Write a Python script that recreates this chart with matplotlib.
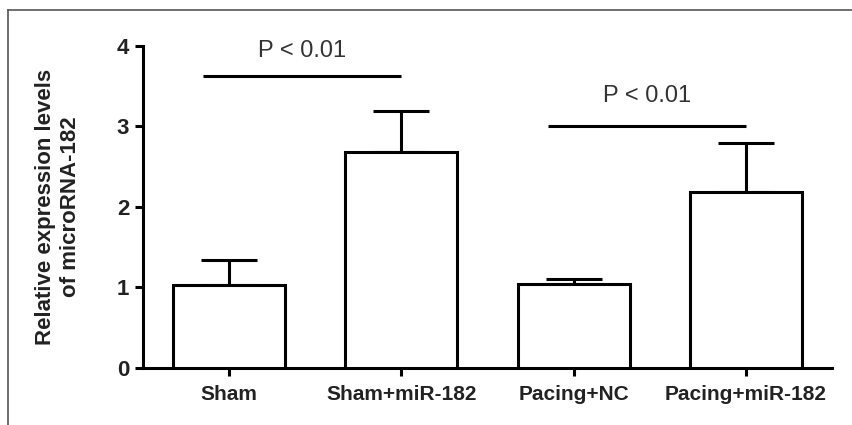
import matplotlib
matplotlib.use("Agg")
import matplotlib.pyplot as plt
from matplotlib.lines import Line2D

# data
groups = ["Sham", "Sham+miR-182", "Pacing+NC", "Pacing+miR-182"]
means = [1.03, 2.68, 1.04, 2.18]
errors = [0.31, 0.51, 0.06, 0.61]
sig_pairs = [(0, 1), (2, 3)]
sig_line_y = [3.63, 3.0]
sig_text_y = [3.80, 3.24]
sig_labels = ["P < 0.01", "P < 0.01"]
yticks = [0, 1, 2, 3, 4]

plt.rcParams["font.family"] = ["Liberation Sans", "DejaVu Sans"]

fig = plt.figure(figsize=(8.52, 4.25), dpi=100)
ax = fig.add_axes([0.168, 0.134, 0.8085, 0.7585])

lw = 2.2
x = list(range(len(groups)))
ax.bar(x, means, width=0.65, color="white", edgecolor="black", linewidth=lw, zorder=3)
ax.errorbar(x, means, yerr=[[0] * len(errors), errors], fmt="none", ecolor="black",
            elinewidth=lw, capsize=20, capthick=lw, zorder=2)

# significance lines
for (a, b), ly, ty, lab in zip(sig_pairs, sig_line_y, sig_text_y, sig_labels):
    x0 = a - 0.15
    x1 = b
    ax.plot([x0, x1], [ly, ly], color="black", linewidth=lw, solid_capstyle="butt")
    ax.text((x0 + x1) / 2, ty, lab, ha="center", va="bottom", fontsize=17, color="#333333")

ax.set_xlim(-0.5, 3.5)
ax.set_ylim(0, 4)
ax.set_yticks(yticks)
ax.set_xticks(x)
ax.set_xticklabels(groups, fontsize=15, fontweight="bold", color="#222222")
ax.set_yticklabels([str(t) for t in yticks], fontsize=16, fontweight="bold", color="#222222")
ax.tick_params(direction="out", length=6, width=lw, pad=4)
ax.tick_params(axis="x", pad=6)

for s in ["top", "right"]:
    ax.spines[s].set_visible(False)
for s in ["left", "bottom"]:
    ax.spines[s].set_linewidth(lw)

ax.set_ylabel("Relative expression levels\nof microRNA-182", fontsize=16, fontweight="bold",
              color="#222222", linespacing=1.25)
ax.yaxis.set_label_coords(-0.09, 0.5)

# gray frame around the figure (only top and left are visible)
fig.add_artist(Line2D([8 / 852, 8 / 852], [0, 1 - 10 / 425], color="#555555", linewidth=1.2))
fig.add_artist(Line2D([8 / 852, 1], [1 - 10 / 425, 1 - 10 / 425], color="#555555", linewidth=1.2))

fig.savefig("out.png", dpi=100)
